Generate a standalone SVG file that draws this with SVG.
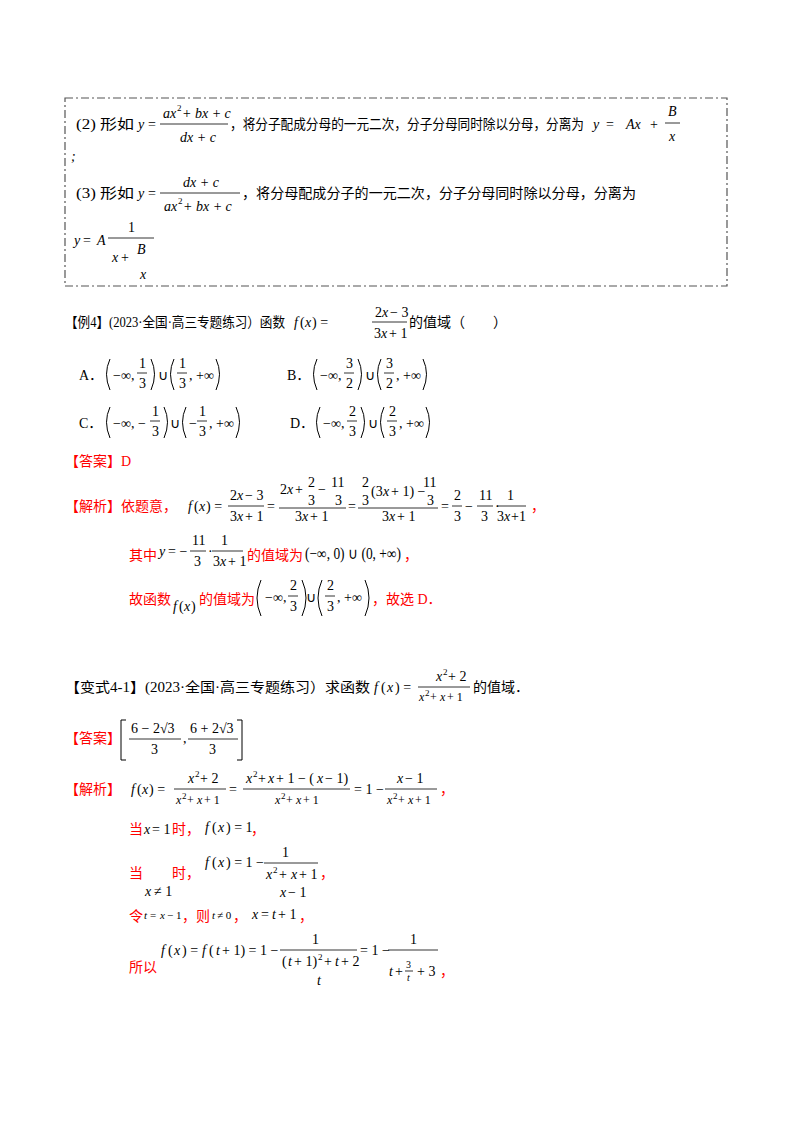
<svg xmlns="http://www.w3.org/2000/svg" width="800" height="1132" viewBox="0 0 800 1132">
<style>
.c{font-family:"Liberation Serif","Noto Sans CJK SC",serif;font-size:14px;fill:#000}
.r{font-family:"Liberation Serif","Noto Sans CJK SC",serif;font-size:14px;fill:#ff0000}
.m{font-family:"Liberation Serif",serif;font-size:14px;font-style:italic;fill:#000}
.n{font-family:"Liberation Serif",serif;font-size:14px;fill:#000}
.s{font-family:"Liberation Serif",serif;font-size:9px;fill:#000}
.f{stroke:#000;stroke-width:0.8}
.p{fill:none;stroke:#000;stroke-width:1}
</style>
<rect width="800" height="1132" fill="#fff"/>
<g id="box">
<rect x="65" y="98" width="662" height="188" fill="none" stroke="#555" stroke-width="1.2" stroke-dasharray="8,3,2,3"/>
<text class="c" x="76" y="129" textLength="58" lengthAdjust="spacingAndGlyphs">(2) 形如</text>
<text class="m" x="138" y="129">y</text><text class="n" x="148" y="129">=</text>
<text class="m" x="163" y="118">ax</text><text class="s" x="177" y="111">2</text><text class="m" x="182" y="118"> + bx + c</text>
<line class="f" x1="160" y1="124" x2="228" y2="124"/>
<text class="m" x="180" y="142">dx + c</text>
<text class="c" x="230" y="129" textLength="354" lengthAdjust="spacingAndGlyphs">，将分子配成分母的一元二次，分子分母同时除以分母，分离为</text>
<text class="m" x="593" y="129">y</text><text class="n" x="606" y="129">=</text><text class="m" x="626" y="129">Ax</text><text class="n" x="650" y="129">+</text>
<text class="m" x="668" y="116">B</text><line class="f" x1="665" y1="123" x2="680" y2="123"/><text class="m" x="669" y="141">x</text>
<text class="m" x="71" y="161">;</text>
<text class="c" x="76" y="198" textLength="58" lengthAdjust="spacingAndGlyphs">(3) 形如</text>
<text class="m" x="138" y="198">y</text><text class="n" x="148" y="198">=</text>
<text class="m" x="183" y="187">dx + c</text>
<line class="f" x1="160" y1="193" x2="240" y2="193"/>
<text class="m" x="164" y="211">ax</text><text class="s" x="178" y="204">2</text><text class="m" x="183" y="211"> + bx + c</text>
<text class="c" x="242" y="198" textLength="394" lengthAdjust="spacingAndGlyphs">，将分母配成分子的一元二次，分子分母同时除以分母，分离为</text>
<text class="m" x="74" y="245">y</text><text class="n" x="83" y="245">=</text><text class="m" x="97" y="245">A</text>
<text class="n" x="128" y="232">1</text><line class="f" x1="108" y1="238" x2="154" y2="238"/>
<text class="m" x="112" y="262">x</text><text class="n" x="121" y="262">+</text>
<text class="m" x="137" y="254">B</text><text class="m" x="140" y="279">x</text>
</g>
<g id="example4">
<text class="c" x="65" y="327" textLength="220" lengthAdjust="spacingAndGlyphs">【例4】(2023·全国·高三专题练习）函数</text>
<text class="m" x="294" y="327">f</text><text class="n" x="300" y="327">(</text><text class="m" x="305" y="327">x</text><text class="n" x="312" y="327">) =</text>
<text class="n" x="375" y="317">2</text><text class="m" x="382" y="317">x</text><text class="n" x="390" y="317">− 3</text>
<line class="f" x1="372" y1="322" x2="407" y2="322"/>
<text class="n" x="374" y="338">3</text><text class="m" x="381" y="338">x</text><text class="n" x="389" y="338">+ 1</text>
<text class="c" x="409" y="327">的值域（　　）</text>

<text class="c" x="79" y="380">A．</text>
<path class="p" d="M110,359 Q103,374 110,390"/>
<text class="n" x="113" y="380">−∞,</text>
<text class="n" x="139" y="368">1</text><line class="f" x1="137" y1="373" x2="147" y2="373"/><text class="n" x="139" y="388">3</text>
<path class="p" d="M151,359 Q158,374 151,390"/>
<text class="n" x="158" y="380">∪</text>
<path class="p" d="M174,359 Q167,374 174,390"/>
<text class="n" x="179" y="368">1</text><line class="f" x1="177" y1="373" x2="187" y2="373"/><text class="n" x="179" y="388">3</text>
<text class="n" x="189" y="380">, +∞</text>
<path class="p" d="M216,359 Q223,374 216,390"/>

<text class="c" x="287" y="380">B．</text>
<path class="p" d="M317,359 Q310,374 317,390"/>
<text class="n" x="320" y="380">−∞,</text>
<text class="n" x="346" y="368">3</text><line class="f" x1="344" y1="373" x2="354" y2="373"/><text class="n" x="346" y="388">2</text>
<path class="p" d="M358,359 Q365,374 358,390"/>
<text class="n" x="365" y="380">∪</text>
<path class="p" d="M381,359 Q374,374 381,390"/>
<text class="n" x="386" y="368">3</text><line class="f" x1="384" y1="373" x2="394" y2="373"/><text class="n" x="386" y="388">2</text>
<text class="n" x="396" y="380">, +∞</text>
<path class="p" d="M423,359 Q430,374 423,390"/>

<text class="c" x="79" y="428">C．</text>
<path class="p" d="M110,407 Q103,422 110,438"/>
<text class="n" x="113" y="428">−∞, −</text>
<text class="n" x="152" y="416">1</text><line class="f" x1="150" y1="421" x2="160" y2="421"/><text class="n" x="152" y="436">3</text>
<path class="p" d="M164,407 Q171,422 164,438"/>
<text class="n" x="170" y="428">∪</text>
<path class="p" d="M186,407 Q179,422 186,438"/>
<text class="n" x="189" y="428">−</text>
<text class="n" x="199" y="416">1</text><line class="f" x1="197" y1="421" x2="207" y2="421"/><text class="n" x="199" y="436">3</text>
<text class="n" x="209" y="428">, +∞</text>
<path class="p" d="M236,407 Q243,422 236,438"/>

<text class="c" x="290" y="428">D．</text>
<path class="p" d="M320,407 Q313,422 320,438"/>
<text class="n" x="323" y="428">−∞,</text>
<text class="n" x="349" y="416">2</text><line class="f" x1="347" y1="421" x2="357" y2="421"/><text class="n" x="349" y="436">3</text>
<path class="p" d="M361,407 Q368,422 361,438"/>
<text class="n" x="368" y="428">∪</text>
<path class="p" d="M384,407 Q377,422 384,438"/>
<text class="n" x="389" y="416">2</text><line class="f" x1="387" y1="421" x2="397" y2="421"/><text class="n" x="389" y="436">3</text>
<text class="n" x="399" y="428">, +∞</text>
<path class="p" d="M426,407 Q433,422 426,438"/>

<text class="r" x="65" y="466">【答案】D</text>

<text class="r" x="65" y="511">【解析】依题意，</text>
<text class="m" x="188" y="511">f</text><text class="n" x="194" y="511">(</text><text class="m" x="199" y="511">x</text><text class="n" x="206" y="511">) =</text>
<text class="n" x="230" y="500">2</text><text class="m" x="237" y="500">x</text><text class="n" x="245" y="500">− 3</text>
<line class="f" x1="228" y1="506" x2="264" y2="506"/>
<text class="n" x="230" y="521">3</text><text class="m" x="237" y="521">x</text><text class="n" x="245" y="521">+ 1</text>
<text class="n" x="267" y="511">=</text>
<text class="n" x="280" y="494">2</text><text class="m" x="287" y="494">x</text><text class="n" x="295" y="494">+</text>
<text class="n" x="308" y="487">2</text><text class="n" x="308" y="505">3</text>
<text class="n" x="318" y="494">−</text><text class="n" x="331" y="487">11</text><text class="n" x="335" y="505">3</text>
<line class="f" x1="279" y1="508" x2="346" y2="508"/>
<text class="n" x="295" y="521">3</text><text class="m" x="302" y="521">x</text><text class="n" x="310" y="521">+ 1</text>
<text class="n" x="348" y="511">=</text>
<text class="n" x="362" y="487">2</text><text class="n" x="362" y="505">3</text>
<text class="n" x="371" y="496">(3</text><text class="m" x="383" y="496">x</text><text class="n" x="391" y="496">+ 1) −</text>
<text class="n" x="423" y="487">11</text><text class="n" x="427" y="505">3</text>
<line class="f" x1="358" y1="508" x2="438" y2="508"/>
<text class="n" x="382" y="521">3</text><text class="m" x="389" y="521">x</text><text class="n" x="397" y="521">+ 1</text>
<text class="n" x="441" y="511">=</text>
<text class="n" x="454" y="500">2</text><line class="f" x1="452" y1="506" x2="462" y2="506"/><text class="n" x="454" y="521">3</text>
<text class="n" x="465" y="511">−</text>
<text class="n" x="479" y="500">11</text><line class="f" x1="477" y1="506" x2="493" y2="506"/><text class="n" x="481" y="521">3</text>
<text class="n" x="495" y="511">·</text>
<text class="n" x="507" y="500">1</text><line class="f" x1="497" y1="506" x2="526" y2="506"/><text class="n" x="497" y="521">3</text><text class="m" x="504" y="521">x</text><text class="n" x="511" y="521">+1</text>
<text class="r" x="531" y="511">，</text>

<text class="r" x="129" y="560">其中</text>
<text class="m" x="159" y="556">y</text><text class="n" x="168" y="556">= −</text>
<text class="n" x="192" y="545">11</text><line class="f" x1="190" y1="551" x2="206" y2="551"/><text class="n" x="194" y="566">3</text>
<text class="n" x="208" y="556">·</text>
<text class="n" x="221" y="545">1</text><line class="f" x1="212" y1="551" x2="243" y2="551"/><text class="n" x="213" y="566">3</text><text class="m" x="220" y="566">x</text><text class="n" x="228" y="566">+ 1</text>
<text class="r" x="247" y="560">的值域为</text>
<text class="n" x="305" y="559" style="font-size:16px" textLength="96" lengthAdjust="spacingAndGlyphs">(−∞, 0) ∪ (0, +∞)</text>
<text class="r" x="404" y="560">，</text>

<text class="r" x="129" y="604">故函数</text>
<text class="m" x="173" y="611">f</text><text class="n" x="179" y="611">(</text><text class="m" x="184" y="611">x</text><text class="n" x="191" y="611">)</text>
<text class="r" x="199" y="604">的值域为</text>
<path class="p" d="M261,580 Q253,598 261,616"/>
<text class="n" x="265" y="602">−∞,</text>
<text class="n" x="290" y="590">2</text><line class="f" x1="288" y1="596" x2="298" y2="596"/><text class="n" x="290" y="611">3</text>
<path class="p" d="M302,580 Q310,598 302,616"/>
<text class="n" x="306" y="602">∪</text>
<path class="p" d="M322,580 Q314,598 322,616"/>
<text class="n" x="327" y="590">2</text><line class="f" x1="325" y1="596" x2="335" y2="596"/><text class="n" x="327" y="611">3</text>
<text class="n" x="337" y="602">, +∞</text>
<path class="p" d="M365,580 Q373,598 365,616"/>
<text class="r" x="372" y="604">，故选 D．</text>
</g>
<g id="variant41">
<text class="c" x="65" y="692" textLength="305" lengthAdjust="spacingAndGlyphs">【变式4-1】(2023·全国·高三专题练习）求函数</text>
<text class="m" x="374" y="692">f</text><text class="n" x="381" y="692">(</text><text class="m" x="387" y="692">x</text><text class="n" x="395" y="692">) =</text>
<text class="m" x="436" y="681">x</text><text class="s" x="443" y="675">2</text><text class="n" x="448" y="681">+ 2</text>
<line class="f" x1="418" y1="687" x2="470" y2="687"/>
<text class="m" x="419" y="701" style="font-size:12px">x</text><text class="s" x="425" y="696">2</text><text class="n" x="430" y="701" style="font-size:12px">+ </text><text class="m" x="440" y="701" style="font-size:12px">x</text><text class="n" x="447" y="701" style="font-size:12px"> + 1</text>
<text class="c" x="473" y="692">的值域．</text>

<text class="r" x="65" y="743">【答案】</text>
<path class="p" d="M126,720 H121 V760 H126"/>
<text class="n" x="131" y="733">6 − 2√3</text><line class="f" x1="129" y1="739" x2="181" y2="739"/><text class="n" x="151" y="754">3</text>
<text class="n" x="183" y="743">,</text>
<text class="n" x="190" y="733">6 + 2√3</text><line class="f" x1="188" y1="739" x2="238" y2="739"/><text class="n" x="209" y="754">3</text>
<path class="p" d="M237,720 H242 V760 H237"/>

<text class="r" x="65" y="794">【解析】</text>
<text class="m" x="131" y="794">f</text><text class="n" x="137" y="794">(</text><text class="m" x="142" y="794">x</text><text class="n" x="149" y="794">) =</text>
<text class="m" x="188" y="783">x</text><text class="s" x="195" y="777">2</text><text class="n" x="200" y="783">+ 2</text>
<line class="f" x1="174" y1="789" x2="226" y2="789"/>
<text class="m" x="176" y="804" style="font-size:12px">x</text><text class="s" x="182" y="799">2</text><text class="n" x="187" y="804" style="font-size:12px">+ </text><text class="m" x="197" y="804" style="font-size:12px">x</text><text class="n" x="204" y="804" style="font-size:12px"> + 1</text>
<text class="n" x="229" y="794">=</text>
<text class="m" x="246" y="783">x</text><text class="s" x="253" y="777">2</text><text class="n" x="258" y="783">+</text><text class="m" x="268" y="783">x</text><text class="n" x="276" y="783">+ 1 − (</text><text class="m" x="317" y="783">x</text><text class="n" x="325" y="783">− 1)</text>
<line class="f" x1="243" y1="789" x2="350" y2="789"/>
<text class="m" x="275" y="804" style="font-size:12px">x</text><text class="s" x="281" y="799">2</text><text class="n" x="286" y="804" style="font-size:12px">+ </text><text class="m" x="296" y="804" style="font-size:12px">x</text><text class="n" x="303" y="804" style="font-size:12px"> + 1</text>
<text class="n" x="354" y="794">= 1 −</text>
<text class="m" x="397" y="783">x</text><text class="n" x="405" y="783">− 1</text>
<line class="f" x1="385" y1="789" x2="437" y2="789"/>
<text class="m" x="387" y="804" style="font-size:12px">x</text><text class="s" x="393" y="799">2</text><text class="n" x="398" y="804" style="font-size:12px">+ </text><text class="m" x="408" y="804" style="font-size:12px">x</text><text class="n" x="415" y="804" style="font-size:12px"> + 1</text>
<text class="r" x="440" y="794">，</text>

<text class="r" x="129" y="834">当</text>
<text class="m" x="144" y="834">x</text><text class="n" x="152" y="834">= 1</text>
<text class="r" x="172" y="834">时，</text>
<text class="m" x="205" y="832">f</text><text class="n" x="212" y="832">(</text><text class="m" x="218" y="832">x</text><text class="n" x="226" y="832">) = 1</text>
<text class="r" x="251" y="834">，</text>

<text class="r" x="129" y="878">当</text>
<text class="m" x="145" y="896">x</text><text class="n" x="154" y="896">≠ 1</text>
<text class="r" x="172" y="878">时，</text>
<text class="m" x="205" y="867">f</text><text class="n" x="212" y="867">(</text><text class="m" x="218" y="867">x</text><text class="n" x="226" y="867">) = 1 −</text>
<text class="n" x="282" y="857">1</text>
<line class="f" x1="264" y1="863" x2="318" y2="863"/>
<text class="m" x="266" y="879">x</text><text class="s" x="273" y="873">2</text><text class="n" x="279" y="879">+ </text><text class="m" x="291" y="879">x</text><text class="n" x="299" y="879">+ 1</text>
<text class="m" x="280" y="897">x</text><text class="n" x="288" y="897">− 1</text>
<text class="r" x="320" y="878">，</text>

<text class="r" x="129" y="921">令</text>
<text class="m" x="144" y="919" style="font-size:11px">t</text><text class="n" x="150" y="919" style="font-size:11px">= </text><text class="m" x="160" y="919" style="font-size:11px">x</text><text class="n" x="167" y="919" style="font-size:11px">− 1</text>
<text class="r" x="182" y="921">，则</text>
<text class="m" x="212" y="919" style="font-size:11px">t</text><text class="n" x="217" y="919" style="font-size:11px">≠ 0</text>
<text class="r" x="233" y="921">，</text>
<text class="m" x="252" y="919">x</text><text class="n" x="261" y="919">= </text><text class="m" x="272" y="919">t</text><text class="n" x="278" y="919">+ 1</text>
<text class="r" x="299" y="921">，</text>

<text class="r" x="129" y="972">所以</text>
<text class="m" x="161" y="955">f</text><text class="n" x="168" y="955">(</text><text class="m" x="174" y="955">x</text><text class="n" x="182" y="955">) = </text><text class="m" x="202" y="955">f</text><text class="n" x="209" y="955">(</text><text class="m" x="216" y="955">t</text><text class="n" x="222" y="955">+ 1) = 1 −</text>
<text class="n" x="312" y="944">1</text>
<line class="f" x1="280" y1="950" x2="357" y2="950"/>
<text class="n" x="282" y="966">(</text><text class="m" x="288" y="966">t</text><text class="n" x="294" y="966">+ 1)</text><text class="s" x="318" y="960">2</text><text class="n" x="324" y="966">+ </text><text class="m" x="335" y="966">t</text><text class="n" x="341" y="966">+ 2</text>
<text class="m" x="317" y="985">t</text>
<text class="n" x="360" y="955">= 1 −</text>
<text class="n" x="410" y="944">1</text>
<line class="f" x1="388" y1="950" x2="438" y2="950"/>
<text class="m" x="389" y="976">t</text><text class="n" x="395" y="976">+</text>
<text class="n" x="406" y="968" style="font-size:10px">3</text><line class="f" x1="405" y1="971" x2="413" y2="971"/><text class="m" x="407" y="981" style="font-size:10px">t</text>
<text class="n" x="417" y="976">+ 3</text>
<text class="r" x="440" y="976">，</text>
</g>
</svg>
